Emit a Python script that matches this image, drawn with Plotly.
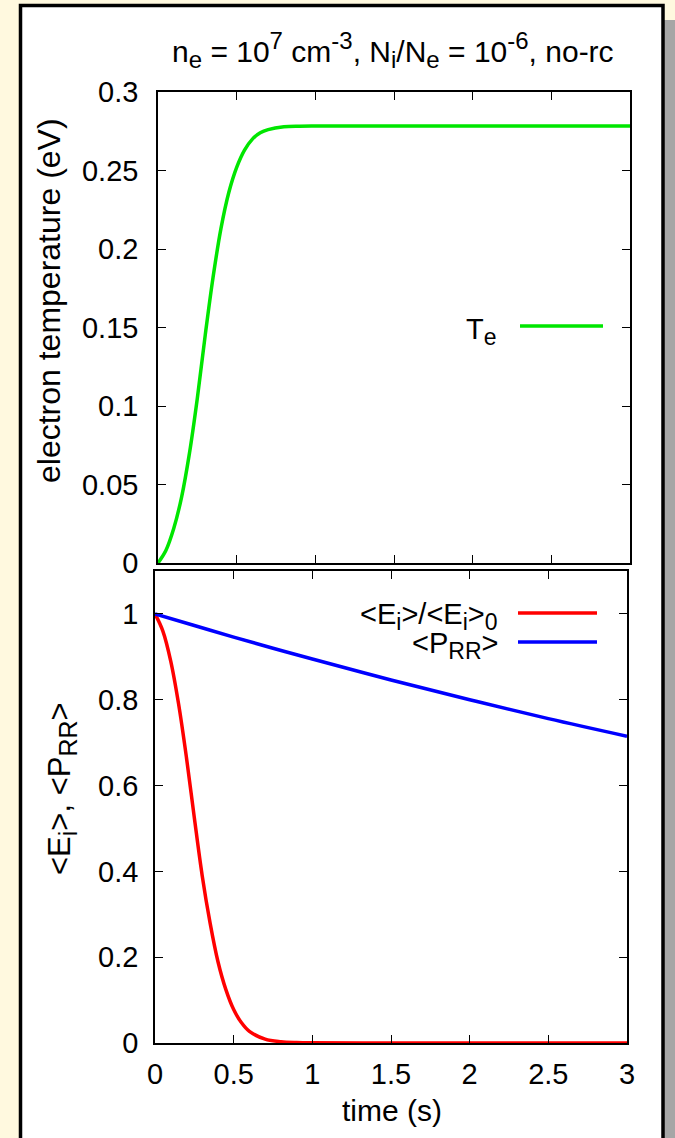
import plotly.graph_objects as go

# ---- data ----
t_te = [0, 0.05, 0.1, 0.15, 0.2, 0.25, 0.3, 0.35, 0.4, 0.45, 0.5, 0.55, 0.6, 0.65, 0.7,
        0.8, 0.9, 1.0, 1.5, 2.0, 2.5, 3.0]
te = [0, 0.008, 0.022, 0.042, 0.07, 0.105, 0.145, 0.182, 0.213, 0.236, 0.252, 0.263, 0.27,
      0.274, 0.276, 0.2778, 0.2782, 0.2783, 0.2783, 0.2783, 0.2783, 0.2783]

t_ei = [0, 0.05, 0.1, 0.15, 0.2, 0.25, 0.3, 0.35, 0.4, 0.45, 0.5, 0.55, 0.6, 0.7, 0.8,
        0.9, 1.0, 1.5, 2.0, 2.5, 3.0]
ei = [1.0, 0.96, 0.89, 0.79, 0.665, 0.525, 0.39, 0.28, 0.19, 0.125, 0.078, 0.047, 0.027,
      0.009, 0.003, 0.001, 0.0003, 0, 0, 0, 0]

t_prr = [0, 0.25, 0.5, 0.75, 1.0, 1.5, 2.0, 2.5, 3.0]
prr = [1.0, 0.973, 0.946, 0.92, 0.895, 0.846, 0.80, 0.756, 0.715]

x_ticks = [0, 0.5, 1, 1.5, 2, 2.5, 3]
y1_ticks = [0, 0.05, 0.1, 0.15, 0.2, 0.25, 0.3]
y2_ticks = [0, 0.2, 0.4, 0.6, 0.8, 1]

W, H = 675, 1138
FONT = "Liberation Sans, Arial, sans-serif"
FS_TICK = 29

def px(x):
    return x / W

def py(y):
    return 1 - y / H

def sub(t, s):
    return f"<sub><span style='font-size:{s}px'>{t}</span></sub>"

def sup(t, s):
    return f"<sup><span style='font-size:{s}px'>{t}</span></sup>"

fig = go.Figure()
fig.add_trace(go.Scatter(x=t_te, y=te, mode="lines", line=dict(color="#00e600", width=3.5, shape="spline"),
                         xaxis="x", yaxis="y", showlegend=False))
fig.add_trace(go.Scatter(x=t_ei, y=ei, mode="lines", line=dict(color="#ff0000", width=3.5, shape="spline"),
                         xaxis="x2", yaxis="y2", showlegend=False))
fig.add_trace(go.Scatter(x=t_prr, y=prr, mode="lines", line=dict(color="#0000ff", width=3.5, shape="spline"),
                         xaxis="x2", yaxis="y2", showlegend=False))

axis_common = dict(showline=True, linecolor="black", linewidth=1.5, mirror="ticks",
                   ticks="inside", ticklen=8, tickwidth=1, tickcolor="black",
                   showgrid=False, zeroline=False, automargin=False,
                   tickfont=dict(family=FONT, size=FS_TICK, color="black"))

fig.update_layout(
    width=W, height=H,
    margin=dict(l=0, r=0, t=0, b=0),
    paper_bgcolor="#fff9df",
    plot_bgcolor="rgba(0,0,0,0)",
    font=dict(family=FONT, size=FS_TICK, color="black"),
    xaxis=dict(axis_common, domain=[px(158), px(630)], range=[0, 3], tickvals=x_ticks,
               showticklabels=False, anchor="y"),
    yaxis=dict(axis_common, domain=[py(563), py(92)], range=[0, 0.3], tickvals=y1_ticks,
               ticklabelstandoff=12, anchor="x"),
    xaxis2=dict(axis_common, domain=[px(155), px(627)], range=[0, 3], tickvals=x_ticks,
                anchor="y2", ticklabelstandoff=4),
    yaxis2=dict(axis_common, domain=[py(1043), py(571)], range=[0, 1.1], tickvals=y2_ticks,
                ticklabelstandoff=9, anchor="x2"),
)

shapes = [
    # gray shadow (drawn first, partly hidden behind the white box)
    dict(type="rect", xref="paper", yref="paper", x0=px(640), x1=1, y0=0, y1=py(20),
         fillcolor="#a6a6a6", line=dict(width=0), layer="below"),
    # white box
    dict(type="rect", xref="paper", yref="paper", x0=px(20.5), x1=px(663), y0=py(1150), y1=py(5.5),
         fillcolor="white", line=dict(color="black", width=3.5), layer="below"),
    # legend keys
    dict(type="line", xref="paper", yref="paper", x0=px(520), x1=px(603), y0=py(326), y1=py(326),
         line=dict(color="#00e600", width=3.5)),
    dict(type="line", xref="paper", yref="paper", x0=px(518), x1=px(597), y0=py(613), y1=py(613),
         line=dict(color="#ff0000", width=3.5)),
    dict(type="line", xref="paper", yref="paper", x0=px(518), x1=px(597), y0=py(642), y1=py(642),
         line=dict(color="#0000ff", width=3.5)),
]
fig.update_layout(shapes=shapes)

def ann(text, x, y, size, xanchor="center", angle=0):
    return dict(text=text, xref="paper", yref="paper", x=px(x), y=py(y), xanchor=xanchor,
                yanchor="middle", showarrow=False, textangle=angle,
                font=dict(family=FONT, size=size, color="black"))

title_txt = ("n" + sub("e", 24) + " = 10" + sup("7", 24) + " cm" + sup("-3", 24) + ", N" + sub("i", 24)
             + "/N" + sub("e", 24) + " = 10" + sup("-6", 24) + ", no-rc")
annotations = [
    ann(title_txt, 393, 50, 30),
    ann("electron temperature (eV)", 49, 301, 32, angle=-90),
    ann("&lt;E" + sub("i", 25) + "&gt;, &lt;P" + sub("RR", 25) + "&gt;", 62, 789, 31, angle=-90),
    ann("time (s)", 392, 1110, 30),
    ann("T" + sub("e", 23), 499, 331, 29, xanchor="right"),
    ann("&lt;E" + sub("i", 23) + "&gt;/&lt;E" + sub("i", 23) + "&gt;" + sub("0", 23), 500, 616, 29,
        xanchor="right"),
    ann("&lt;P" + sub("RR", 23) + "&gt;", 500, 645, 29, xanchor="right"),
]
fig.update_layout(annotations=annotations)

fig.write_html("out.html", config={"displayModeBar": False})
